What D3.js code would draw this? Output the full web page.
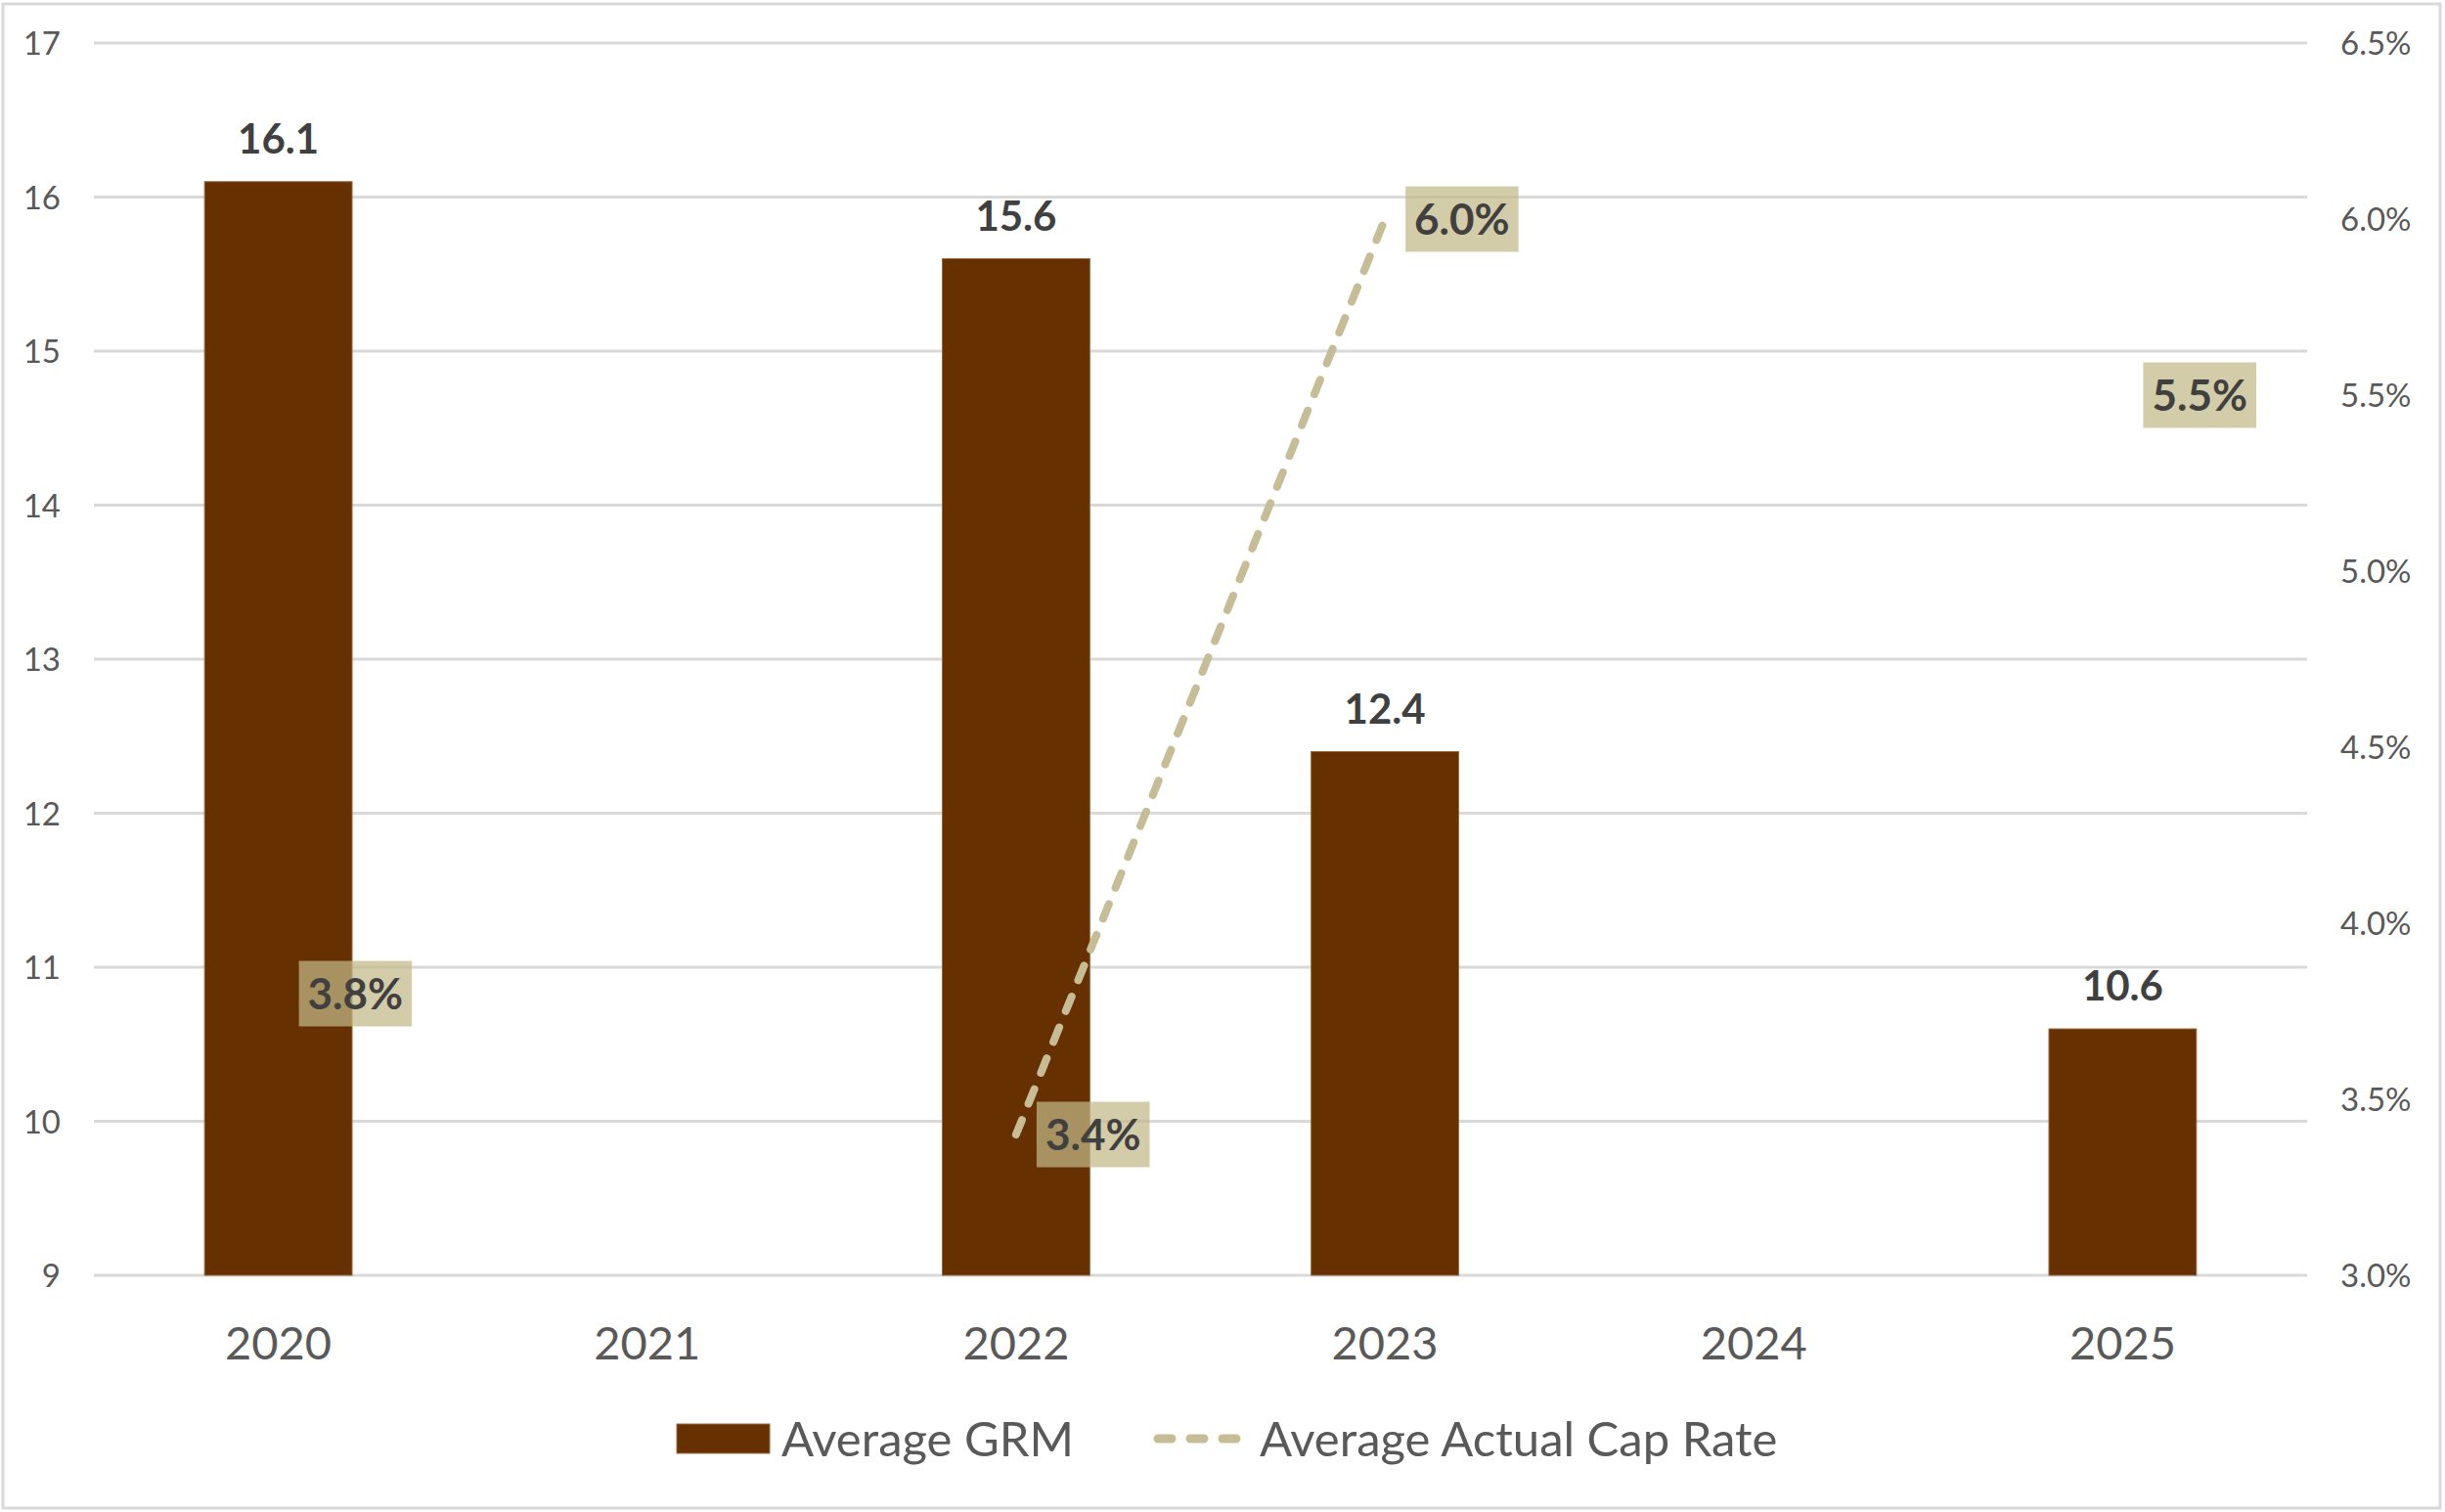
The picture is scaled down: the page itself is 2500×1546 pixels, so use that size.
<!DOCTYPE html>
<html>
<head>
<meta charset="utf-8">
<script src="https://cdn.jsdelivr.net/npm/d3@7/dist/d3.min.js"></script>
<style>
  html, body { margin: 0; padding: 0; background: #fff; }
  svg { display: block; font-family: Lato, "Open Sans", sans-serif; }
</style>
</head>
<body>
<svg id="chart" width="2500" height="1546"></svg>
<script>
// ---- data ----
const categories = ["2020", "2021", "2022", "2023", "2024", "2025"];
const grmValues = [16.1, null, 15.6, 12.4, null, 10.6];
const capRateValues = [0.038, null, 0.034, 0.060, null, 0.055];
const leftTicks = [9, 10, 11, 12, 13, 14, 15, 16, 17];
const rightTicks = [0.030, 0.035, 0.040, 0.045, 0.050, 0.055, 0.060, 0.065];
const seriesNames = ["Average GRM", "Average Actual Cap Rate"];

// ---- layout ----
const W = 2500, H = 1546;
const plot = { left: 96, right: 2359, top: 44, bottom: 1304 };
const barColor = "#663000";
const lineColor = "#C6BD96";
const boxFill = "rgb(194,184,136)";
const labelColor = "#404040";
const axisColor = "#595959";
const gridColor = "#D9D9D9";

const svg = d3.select("#chart");

// chart border
svg.append("rect")
  .attr("x", 3).attr("y", 4).attr("width", W - 8).attr("height", H - 8)
  .attr("fill", "#fff").attr("stroke", gridColor).attr("stroke-width", 3);

const x = d3.scaleBand().domain(categories)
  .range([plot.left, plot.right]).paddingInner(0.6).paddingOuter(0.3);
const yL = d3.scaleLinear().domain([9, 17]).range([plot.bottom, plot.top]);
const yR = d3.scaleLinear().domain([0.03, 0.065]).range([plot.bottom, plot.top]);
const cx = c => x(c) + x.bandwidth() / 2;

// gridlines (left axis)
svg.append("g").selectAll("line").data(leftTicks).join("line")
  .attr("x1", plot.left).attr("x2", plot.right)
  .attr("y1", d => yL(d)).attr("y2", d => yL(d))
  .attr("stroke", gridColor).attr("stroke-width", 3);

// left axis
const leftAxis = svg.append("g")
  .attr("transform", `translate(${plot.left - 34},0)`)
  .call(d3.axisLeft(yL).tickValues(leftTicks).tickSize(0).tickPadding(0).tickFormat(d3.format("d")));
leftAxis.select(".domain").remove();
leftAxis.selectAll("text").attr("font-size", 33).attr("fill", axisColor)
  .attr("font-family", "Lato, sans-serif").attr("dy", "0.35em");

// right axis
const rightAxis = svg.append("g")
  .attr("transform", `translate(${plot.right + 34},0)`)
  .call(d3.axisRight(yR).tickValues(rightTicks).tickSize(0).tickPadding(0).tickFormat(d3.format(".1%")));
rightAxis.select(".domain").remove();
rightAxis.selectAll("text").attr("font-size", 33).attr("fill", axisColor)
  .attr("font-family", "Lato, sans-serif").attr("dy", "0.35em");

// x axis
const xAxis = svg.append("g")
  .attr("transform", `translate(0,${plot.bottom})`)
  .call(d3.axisBottom(x).tickSize(0).tickPadding(0));
xAxis.select(".domain").remove();
xAxis.selectAll("text").attr("font-size", 47).attr("fill", axisColor)
  .attr("font-family", "Lato, sans-serif").attr("dy", 0).attr("y", 86);

// bars
const barData = categories.map((c, i) => ({ c, v: grmValues[i] })).filter(d => d.v != null);
svg.append("g").selectAll("rect").data(barData).join("rect")
  .attr("x", d => x(d.c)).attr("width", x.bandwidth())
  .attr("y", d => yL(d.v)).attr("height", d => yL(9) - yL(d.v))
  .attr("fill", barColor).attr("stroke", "#9a6a3f").attr("stroke-width", 1);

// bar labels
svg.append("g").selectAll("text").data(barData).join("text")
  .attr("x", d => cx(d.c)).attr("y", d => yL(d.v) - 29)
  .attr("text-anchor", "middle").attr("font-size", 42).attr("font-weight", 700)
  .attr("fill", labelColor).text(d => d.v.toFixed(1));

// cap rate line
const capData = categories.map((c, i) => ({ c, v: capRateValues[i] }));
const line = d3.line().defined(d => d.v != null).x(d => cx(d.c)).y(d => yR(d.v));
svg.append("path").datum(capData)
  .attr("d", line).attr("fill", "none").attr("stroke", lineColor)
  .attr("stroke-width", 8).attr("stroke-linecap", "round").attr("stroke-dasharray", "16,18");

// cap rate labels
const capLabels = svg.append("g").selectAll("g").data(capData.filter(d => d.v != null)).join("g");
capLabels.each(function (d) {
  const g = d3.select(this);
  const rect = g.append("rect").attr("fill", boxFill).attr("fill-opacity", 0.72);
  const t = g.append("text").attr("font-size", 44).attr("font-weight", 700)
    .attr("fill", labelColor).attr("text-anchor", "middle")
    .text(d3.format(".1%")(d.v));
  const tw = t.node().getComputedTextLength();
  const bw = tw + 18, bh = 67;
  const bx = cx(d.c) + 21, by = yR(d.v) - bh / 2;
  rect.attr("x", bx).attr("y", by).attr("width", bw).attr("height", bh);
  t.attr("x", bx + bw / 2).attr("y", yR(d.v)).attr("dy", "0.36em");
});

// legend
const lg = svg.append("g").attr("transform", "translate(0,1471)");
lg.append("rect").attr("x", 692).attr("y", -15).attr("width", 95).attr("height", 30)
  .attr("fill", barColor).attr("stroke", "#9a6a3f").attr("stroke-width", 1);
lg.append("text").attr("x", 799).attr("y", 0).attr("dy", "0.36em")
  .attr("font-size", 49).attr("fill", axisColor).text(seriesNames[0]);
lg.append("line").attr("x1", 1184).attr("x2", 1268).attr("y1", 0).attr("y2", 0)
  .attr("stroke", lineColor).attr("stroke-width", 9).attr("stroke-linecap", "round")
  .attr("stroke-dasharray", "14,19");
lg.append("text").attr("x", 1288).attr("y", 0).attr("dy", "0.36em")
  .attr("font-size", 49).attr("fill", axisColor).text(seriesNames[1]);
</script>
</body>
</html>
